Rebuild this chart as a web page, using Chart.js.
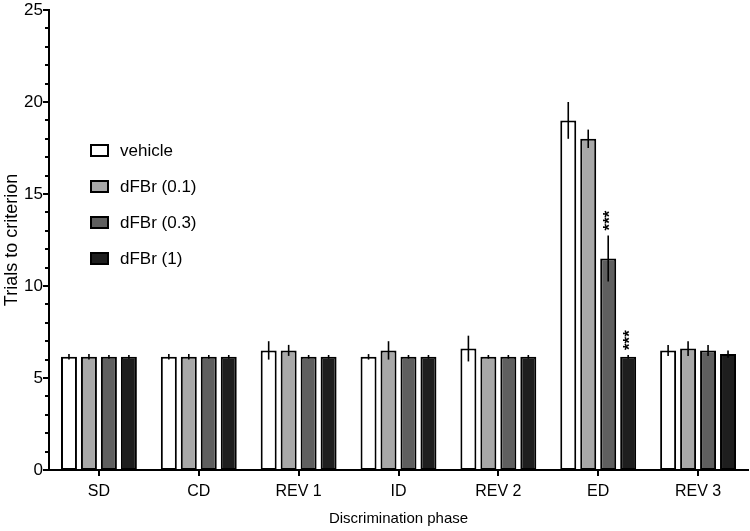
<!DOCTYPE html>
<html>
<head>
<meta charset="utf-8">
<script src="https://cdn.jsdelivr.net/npm/chart.js@4/dist/chart.umd.min.js"></script>
<style>
  html, body { margin: 0; padding: 0; background: #fff; }
  #wrap { width: 750px; height: 531px; }
</style>
</head>
<body>
<div id="wrap"><canvas id="c" width="750" height="531"></canvas></div>
<script>
const categories = ['SD', 'CD', 'REV 1', 'ID', 'REV 2', 'ED', 'REV 3'];
const seriesLabels = ['vehicle', 'dFBr (0.1)', 'dFBr (0.3)', 'dFBr (1)'];
const vehicle    = [6.15, 6.15, 6.5, 6.15, 6.6, 19.0, 6.5];
const vehicleErr = [0.15, 0.15, 0.5, 0.15, 0.7, 1.0, 0.3];
const dose01     = [6.15, 6.15, 6.5, 6.5, 6.15, 18.0, 6.6];
const dose01Err  = [0.15, 0.15, 0.3, 0.5, 0.1, 0.5, 0.4];
const dose03     = [6.15, 6.15, 6.15, 6.15, 6.15, 11.5, 6.5];
const dose03Err  = [0.1, 0.1, 0.1, 0.1, 0.1, 1.25, 0.3];
const dose1      = [6.15, 6.15, 6.15, 6.15, 6.15, 6.15, 6.3];
const dose1Err   = [0.1, 0.1, 0.1, 0.1, 0.1, 0.1, 0.2];
const sig03      = ['', '', '', '', '', '***', ''];
const sig1       = ['', '', '', '', '', '***', ''];
const yTickValues = [0, 5, 10, 15, 20, 25];

const fills = ['#ffffff', '#a8a8a8', '#5f5f5f', '#1e1e1e'];
const FONT = 'Liberation Sans, Arial, sans-serif';

const seriesData = [vehicle, dose01, dose03, dose1];
const seriesErr = [vehicleErr, dose01Err, dose03Err, dose1Err];
const seriesSig = [null, null, sig03, sig1];

const datasets = seriesData.map((d, i) => ({
  label: seriesLabels[i],
  data: d,
  errors: seriesErr[i],
  sig: seriesSig[i],
  backgroundColor: fills[i],
  borderColor: '#000',
  borderWidth: 2,
  borderSkipped: false,
  categoryPercentage: 0.8,
  barPercentage: 0.8
}));

const decorPlugin = {
  id: 'decor',
  afterDatasetsDraw(chart) {
    const ctx = chart.ctx;
    const y = chart.scales.y;
    const x = chart.scales.x;
    ctx.save();
    // error bars
    chart.data.datasets.forEach((ds, di) => {
      const meta = chart.getDatasetMeta(di);
      meta.data.forEach((bar, i) => {
        const v = ds.data[i], e = ds.errors[i];
        const top = y.getPixelForValue(v + e);
        const bot = y.getPixelForValue(v - e);
        ctx.strokeStyle = '#000';
        ctx.lineWidth = 1.6;
        ctx.beginPath();
        ctx.moveTo(bar.x, top);
        ctx.lineTo(bar.x, bot);
        ctx.stroke();
        if (ds.sig && ds.sig[i]) {
          ctx.save();
          ctx.translate(bar.x, top - 5);
          ctx.rotate(-Math.PI / 2);
          ctx.fillStyle = '#000';
          ctx.font = 'bold 17px ' + FONT;
          ctx.textAlign = 'left';
          ctx.textBaseline = 'middle';
          ctx.fillText(ds.sig[i], 0, 2);
          ctx.restore();
        }
      });
    });
    // y ticks (major + minor)
    ctx.strokeStyle = '#000';
    ctx.lineWidth = 2;
    for (let v = 0; v <= 25; v++) {
      const py = Math.round(y.getPixelForValue(v));
      const len = (v % 5 === 0) ? 6 : 4;
      ctx.beginPath();
      ctx.moveTo(y.right - len, py);
      ctx.lineTo(y.right, py);
      ctx.stroke();
    }
    // x ticks
    categories.forEach((c, i) => {
      const px = Math.round(x.getPixelForValue(i));
      ctx.beginPath();
      ctx.moveTo(px, x.top);
      ctx.lineTo(px, x.top + 6);
      ctx.stroke();
    });
    // legend
    ctx.font = '17px ' + FONT;
    ctx.textBaseline = 'middle';
    ctx.textAlign = 'left';
    chart.data.datasets.forEach((ds, i) => {
      const cy = 150 + i * 36;
      ctx.fillStyle = ds.backgroundColor;
      ctx.fillRect(91, cy - 5, 17, 11);
      ctx.strokeStyle = '#000';
      ctx.lineWidth = 2;
      ctx.strokeRect(91, cy - 5, 17, 11);
      ctx.fillStyle = '#000';
      ctx.fillText(ds.label, 120, cy + 1);
    });
    ctx.restore();
  }
};

new Chart(document.getElementById('c'), {
  type: 'bar',
  data: { labels: categories, datasets },
  options: {
    responsive: false,
    animation: false,
    devicePixelRatio: 1,
    layout: { padding: { top: 10, right: 2, left: 0, bottom: 0 } },
    plugins: { legend: { display: false }, tooltip: { enabled: false } },
    scales: {
      x: {
        grid: { display: false, drawTicks: false },
        border: { display: true, color: '#000', width: 2 },
        ticks: { color: '#000', font: { family: FONT, size: 16 }, padding: 12 },
        title: { display: true, text: 'Discrimination phase', color: '#000',
                 font: { family: FONT, size: 15 }, padding: { top: 0, bottom: 3 } },
        afterFit(s) { s.height = 61; s.paddingLeft = 0; s.paddingRight = 0; }
      },
      y: {
        min: 0, max: 25,
        grid: { display: false, drawTicks: false },
        border: { display: true, color: '#000', width: 2 },
        afterBuildTicks(s) { s.ticks = yTickValues.map(v => ({ value: v })); },
        ticks: { color: '#000', font: { family: FONT, size: 17 }, padding: 6, autoSkip: false },
        title: { display: true, text: 'Trials to criterion', color: '#000',
                 font: { family: FONT, size: 18 }, padding: { top: 1, bottom: 0 } },
        afterFit(s) { s.width = 49; s.paddingTop = 0; s.paddingBottom = 0; }
      }
    }
  },
  plugins: [decorPlugin]
});
</script>
</body>
</html>
